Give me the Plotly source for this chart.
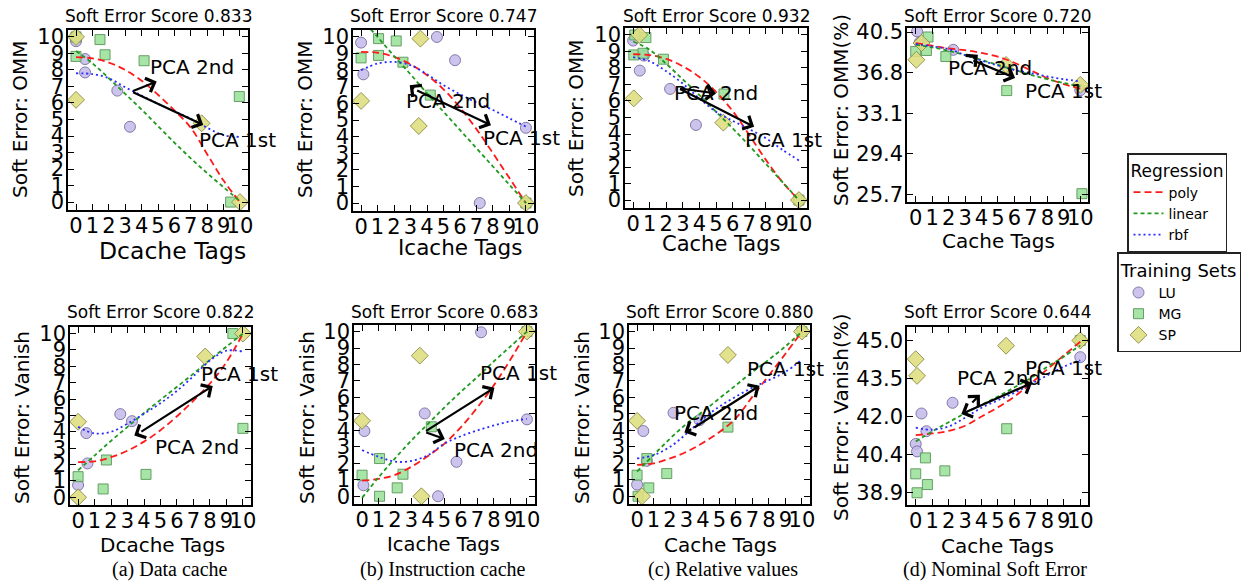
import plotly.graph_objects as go

W, H = 1243, 582

# ---------------- shared values ----------------
CURVE_X = [0, 1, 2, 3, 4, 5, 6, 7, 8, 9, 10]
X_TICKS = [0, 1, 2, 3, 4, 5, 6, 7, 8, 9, 10]
Y_TICKS = [0, 1, 2, 3, 4, 5, 6, 7, 8, 9, 10]
D1_YTICKS = [25.7, 29.4, 33.1, 36.8, 40.5]
D1_YTICK_TEXT = ["25.7", "29.4", "33.1", "36.8", "40.5"]
D2_YTICKS = [38.9, 40.425, 41.95, 43.475, 45.0]
D2_YTICK_TEXT = ["38.9", "40.4", "42.0", "43.5", "45.0"]

SCORES = ["0.833", "0.747", "0.932", "0.720", "0.822", "0.683", "0.880", "0.644"]
X_LABELS = ["Dcache Tags", "Icache Tags", "Cache Tags", "Cache Tags",
            "Dcache Tags", "Icache Tags", "Cache Tags", "Cache Tags"]
Y_LABELS = ["Soft Error: OMM", "Soft Error: OMM", "Soft Error: OMM", "Soft Error: OMM(%)",
            "Soft Error: Vanish", "Soft Error: Vanish", "Soft Error: Vanish", "Soft Error: Vanish(%)"]
CAPTIONS = ["(a) Data cache", "(b) Instruction cache", "(c) Relative values", "(d) Nominal Soft Error"]

# ---------------- (a) Dcache, OMM ----------------
A1_LU_X = [0, 0.55, 0.55, 2.52, 3.29]
A1_LU_Y = [9.74, 8.66, 7.85, 6.75, 4.56]
A1_MG_X = [0, 0, 1.46, 1.77, 4.15, 9.96, 9.43]
A1_MG_Y = [10.0, 8.82, 9.84, 8.92, 8.56, 6.39, 0.0]
A1_SP_X = [0, 0, 7.66, 10]
A1_SP_Y = [10.0, 6.19, 4.77, 0.0]
A1_POLY = [8.78, 8.7, 8.45, 8.0, 7.35, 6.5, 5.55, 4.5, 2.9, 1.3, 0.0]
A1_LIN = [9.15, 8.4, 7.5, 6.55, 5.6, 4.6, 3.6, 2.65, 1.75, 0.9, 0.05]
A1_RBF = [7.8, 7.75, 7.5, 6.95, 6.45, 5.95, 5.5, 5.05, 4.5, 4.05, 3.95]

# ---------------- (b) Icache, OMM ----------------
B1_LU_X = [0, 0.14, 4.6, 5.7, 7.2, 10]
B1_LU_Y = [9.66, 7.75, 10.0, 8.6, 0.0, 4.53]
B1_MG_X = [0, 1.06, 1.06, 2.13, 2.54, 4.2, 10]
B1_MG_Y = [8.74, 9.9, 8.89, 9.76, 8.48, 6.5, 0.0]
B1_SP_X = [0, 3.6, 3.5, 10]
B1_SP_Y = [6.15, 9.9, 4.64, 0.0]
B1_POLY = [9.1, 9.05, 8.8, 8.35, 7.7, 6.85, 5.75, 4.45, 3.0, 1.5, 0.0]
B1_LIN = [11.1, 10.0, 8.85, 7.75, 6.6, 5.5, 4.4, 3.3, 2.2, 1.1, 0.0]
B1_RBF = [8.0, 8.4, 8.5, 8.3, 7.75, 7.1, 6.55, 6.05, 5.6, 5.1, 4.6]

# ---------------- (c) relative, OMM ----------------
C1_LU_X = [0, 0.4, 0.65, 2.23, 3.79, 10]
C1_LU_Y = [9.66, 7.84, 8.75, 6.73, 4.55, 0.0]
C1_MG_X = [0.1, 0.77, 0.04, 0.6, 1.83, 5.48, 10]
C1_MG_Y = [10.0, 9.84, 8.79, 8.89, 8.53, 6.42, 0.0]
C1_SP_X = [0.37, 0.04, 5.44, 10]
C1_SP_Y = [10.0, 6.16, 4.69, 0.0]
C1_POLY = [8.83, 8.78, 8.55, 8.1, 7.45, 6.55, 5.4, 3.95, 2.45, 1.1, 0.0]
C1_LIN = [9.6, 9.1, 8.25, 7.3, 6.35, 5.35, 4.35, 3.3, 2.2, 1.1, 0.0]
C1_RBF = [8.65, 8.4, 7.8, 7.05, 6.15, 5.35, 4.8, 4.3, 3.75, 3.05, 2.4]

# ---------------- (d) nominal, OMM(%) ----------------
D1_LU_X = [0.08, 0.24, 2.28, 10]
D1_LU_Y = [40.56, 39.55, 38.88, 35.2]
D1_MG_X = [0, 0.65, 0.75, 1.83, 5.53, 10.1]
D1_MG_Y = [38.73, 38.82, 40.05, 38.27, 35.16, 25.76]
D1_SP_X = [0.04, 0.35, 5.49, 10]
D1_SP_Y = [37.97, 39.5, 37.5, 35.68]
D1_POLY = [39.5, 39.25, 39.0, 38.85, 38.6, 38.25, 37.7, 37.0, 36.3, 35.75, 35.35]
D1_LIN = [39.35, 39.1, 38.8, 38.4, 37.95, 37.5, 37.05, 36.6, 36.2, 35.85, 35.55]
D1_RBF = [39.4, 39.2, 38.95, 38.4, 37.9, 37.45, 37.05, 36.75, 36.45, 36.2, 36.0]

# ---------------- (a) Dcache, Vanish ----------------
A2_LU_X = [0, 0.5, 0.57, 2.56, 3.27]
A2_LU_Y = [0.75, 3.92, 2.07, 5.08, 4.65]
A2_MG_X = [0, 1.52, 1.72, 4.12, 9.39, 10]
A2_MG_Y = [1.26, 0.51, 2.28, 1.4, 10.0, 4.21]
A2_SP_X = [0, 0, 7.71, 10]
A2_SP_Y = [4.61, 0.0, 8.6, 10.0]
A2_POLY = [2.15, 2.2, 2.45, 2.85, 3.4, 4.1, 4.95, 5.9, 6.95, 8.25, 10.0]
A2_LIN = [1.65, 2.55, 3.45, 4.3, 5.15, 5.95, 6.75, 7.55, 8.4, 9.2, 10.0]
A2_RBF = [4.3, 3.9, 4.0, 4.5, 5.1, 5.75, 6.5, 7.4, 8.35, 8.95, 8.9]

# ---------------- (b) Icache, Vanish ----------------
B2_LU_X = [0.08, 0.14, 3.8, 4.61, 5.73, 7.22, 10]
B2_LU_Y = [0.67, 3.96, 5.03, 0.0, 2.09, 9.96, 4.67]
B2_MG_X = [0, 1.06, 1.06, 2.13, 2.48, 4.2, 10]
B2_MG_Y = [1.28, 2.29, 0.0, 0.51, 1.34, 4.22, 10.0]
B2_SP_X = [0, 3.5, 3.6, 10]
B2_SP_Y = [4.58, 8.54, 0.0, 10.0]
B2_POLY = [0.95, 1.05, 1.3, 1.8, 2.45, 3.2, 4.2, 5.4, 6.75, 8.3, 10.0]
B2_LIN = [-0.1, 1.15, 2.3, 3.4, 4.4, 5.4, 6.35, 7.25, 8.2, 9.1, 10.0]
B2_RBF = [2.8, 2.4, 2.1, 2.15, 2.5, 3.2, 3.65, 4.0, 4.3, 4.55, 4.7]

# ---------------- (c) relative, Vanish ----------------
C2_LU_X = [0, 0.38, 0.59, 2.21, 3.79]
C2_LU_Y = [0.71, 3.96, 2.15, 5.07, 4.62]
C2_MG_X = [0, 0.59, 0.71, 1.8, 5.51, 0.06, 10]
C2_MG_Y = [1.28, 2.29, 0.51, 1.38, 4.2, 0.0, 10.0]
C2_SP_X = [0, 0.3, 5.51, 10]
C2_SP_Y = [4.58, 0.0, 8.58, 10.0]
C2_POLY = [1.9, 2.0, 2.3, 2.7, 3.25, 3.9, 4.75, 6.05, 7.35, 8.65, 10.0]
C2_LIN = [1.5, 2.5, 3.5, 4.4, 5.15, 5.95, 6.75, 7.55, 8.3, 9.1, 10.0]
C2_RBF = [2.3, 2.5, 3.0, 3.8, 4.7, 5.45, 6.05, 6.6, 7.05, 7.55, 8.3]

# ---------------- (d) nominal, Vanish(%) ----------------
D2_LU_X = [0, 0.08, 0.35, 0.65, 2.24, 10]
D2_LU_Y = [40.85, 40.55, 42.07, 41.36, 42.5, 44.33]
D2_MG_X = [0, 0.08, 0.59, 0.71, 1.77, 5.53, 10]
D2_MG_Y = [39.65, 38.89, 40.29, 39.22, 39.77, 41.46, 45.0]
D2_SP_X = [0, 0.08, 5.49, 10]
D2_SP_Y = [44.25, 43.58, 44.79, 45.0]
D2_POLY = [41.2, 41.27, 41.37, 41.58, 41.95, 42.32, 42.75, 43.28, 43.85, 44.4, 44.95]
D2_LIN = [40.95, 41.35, 41.72, 42.08, 42.42, 42.75, 43.12, 43.5, 43.95, 44.35, 44.8]
D2_RBF = [41.5, 41.42, 41.55, 41.9, 42.3, 42.6, 42.9, 43.25, 43.6, 43.95, 44.2]

# ---------------- PCA arrows: [start_x, start_y, end_x, end_y] ----------------
PCA1_ARROWS = [[3.39, 6.69, 7.76, 4.67], [3.31, 6.82, 7.88, 4.69], [2.74, 6.77, 7.3, 4.44],
               [3.41, 37.96, 6.04, 36.32], [3.75, 3.95, 8.17, 6.8], [3.8, 3.91, 8.03, 6.59],
               [3.38, 4.12, 7.43, 6.71], [2.68, 42.02, 7.07, 43.3]]
PCA1_BOTH_ENDS = [False, False, False, False, False, False, False, True]
PCA2_ARROWS = [[3.39, 6.69, 4.92, 7.3], [3.31, 6.82, 2.95, 7.1], [2.74, 6.77, 5.0, 6.46],
               [3.41, 37.96, 3.78, 38.42], [3.75, 3.95, 3.41, 3.78], [3.8, 3.91, 5.02, 3.47],
               [3.38, 4.12, 2.87, 3.87], [3.35, 42.45, 3.9, 42.82]]
PCA1_LABEL_XY = [[7.36, 3.75], [7.26, 3.9], [6.6, 3.64], [6.54, 35.16],
                 [7.36, 7.52], [7.05, 7.5], [6.52, 7.73], [6.54, 43.89]]
PCA2_LABEL_XY = [[4.41, 8.2], [2.58, 6.15], [2.33, 6.5], [1.87, 37.2],
                 [4.52, 3.05], [5.43, 2.8], [2.13, 5.03], [2.38, 43.49]]

PANELS = [
    (A1_LU_X, A1_LU_Y, A1_MG_X, A1_MG_Y, A1_SP_X, A1_SP_Y, A1_POLY, A1_LIN, A1_RBF),
    (B1_LU_X, B1_LU_Y, B1_MG_X, B1_MG_Y, B1_SP_X, B1_SP_Y, B1_POLY, B1_LIN, B1_RBF),
    (C1_LU_X, C1_LU_Y, C1_MG_X, C1_MG_Y, C1_SP_X, C1_SP_Y, C1_POLY, C1_LIN, C1_RBF),
    (D1_LU_X, D1_LU_Y, D1_MG_X, D1_MG_Y, D1_SP_X, D1_SP_Y, D1_POLY, D1_LIN, D1_RBF),
    (A2_LU_X, A2_LU_Y, A2_MG_X, A2_MG_Y, A2_SP_X, A2_SP_Y, A2_POLY, A2_LIN, A2_RBF),
    (B2_LU_X, B2_LU_Y, B2_MG_X, B2_MG_Y, B2_SP_X, B2_SP_Y, B2_POLY, B2_LIN, B2_RBF),
    (C2_LU_X, C2_LU_Y, C2_MG_X, C2_MG_Y, C2_SP_X, C2_SP_Y, C2_POLY, C2_LIN, C2_RBF),
    (D2_LU_X, D2_LU_Y, D2_MG_X, D2_MG_Y, D2_SP_X, D2_SP_Y, D2_POLY, D2_LIN, D2_RBF),
]

# ---------------- layout geometry (pixels) ----------------
BOXES = [(68, 248, 30, 210), (353, 534, 30, 211), (625, 807, 28, 208), (907, 1088, 28, 202),
         (70, 251, 327, 505), (354, 535, 325, 504), (629, 810, 325, 504), (907, 1088, 327, 505)]
XRANGES = [[-0.49, 10.49]] * 3 + [[-0.53, 10.47]] + [[-0.49, 10.49]] * 3 + [[-0.53, 10.47]]
YRANGES = [[-0.48, 10.42]] * 3 + [[25.0, 40.87]] + [[-0.47, 10.4]] * 3 + [[38.4, 45.54]]
TITLE_Y = [16, 16, 16, 16, 312, 312, 312, 312]
XTITLE_POS = [(172, 251, 23.5), (460, 247, 21.5), (721, 244, 21), (998, 241, 20),
              (162, 545, 20), (443, 544, 19.5), (720, 545, 20), (997, 546, 20)]
YTITLE_POS = [(20, 119), (305, 119), (576, 118), (841, 110),
              (22, 418), (307, 418), (582, 418), (841, 417)]
CAPTION_X = [170, 443, 723, 995]
CAPTION_Y = 569

FONT = "DejaVu Sans"

def px(x):
    return x / W

def py(y):
    return 1 - y / H

fig = go.Figure()
annotations = []
layout = dict(width=W, height=H, margin=dict(l=0, r=0, t=0, b=0, pad=0, autoexpand=False),
              autosize=False, paper_bgcolor="white", plot_bgcolor="white",
              font=dict(family=FONT, color="black"))

LINE_STYLES = [("poly", "#ff1a1a", "7px,4px"), ("linear", "#1f9a1f", "4px,3px"), ("rbf", "#2b2bff", "2px,3px")]
MARKER_STYLES = [("LU", "circle", 11, "rgba(196,186,234,0.85)", "rgba(120,110,160,0.9)"),
                 ("MG", "square", 10, "rgba(150,224,150,0.85)", "rgba(90,150,90,0.9)"),
                 ("SP", "diamond", 13, "rgba(222,222,130,0.9)", "rgba(140,140,70,0.9)")]

for i, data in enumerate(PANELS):
    n = i + 1
    xa = "x" if n == 1 else f"x{n}"
    ya = "y" if n == 1 else f"y{n}"
    x0, x1, y0, y1 = BOXES[i]
    axis_common = dict(showline=True, linecolor="black", linewidth=1.5, mirror="ticks",
                       ticks="inside", ticklen=6, tickwidth=1, tickcolor="black",
                       showgrid=False, zeroline=False, automargin=False,
                       tickfont=dict(family=FONT, size=21, color="black"))
    layout["xaxis" if n == 1 else f"xaxis{n}"] = dict(
        axis_common, domain=[px(x0), px(x1)], range=XRANGES[i], anchor=ya,
        tickmode="array", tickvals=X_TICKS, ticktext=[str(v) for v in X_TICKS], tickangle=0,
        ticklabelstandoff=-4)
    if i == 3:
        yt, ytt = D1_YTICKS, D1_YTICK_TEXT
    elif i == 7:
        yt, ytt = D2_YTICKS, D2_YTICK_TEXT
    else:
        yt, ytt = Y_TICKS, [str(v) for v in Y_TICKS]
    layout["yaxis" if n == 1 else f"yaxis{n}"] = dict(
        axis_common, domain=[py(y1), py(y0)], range=YRANGES[i], anchor=xa,
        tickmode="array", tickvals=yt, ticktext=ytt, ticklabelstandoff=-2)

    lu_x, lu_y, mg_x, mg_y, sp_x, sp_y, poly, lin, rbf = data
    for (name, sym, size, fill, edge), (mx, my) in zip(MARKER_STYLES, [(lu_x, lu_y), (mg_x, mg_y), (sp_x, sp_y)]):
        fig.add_trace(go.Scatter(x=mx, y=my, mode="markers", name=name, xaxis=xa, yaxis=ya,
                                 marker=dict(symbol=sym, size=size, color=fill, line=dict(color=edge, width=1)),
                                 legend="legend2", showlegend=(i == 0), legendgroup=name))
    for (name, color, dash), cy in zip(LINE_STYLES, [poly, lin, rbf]):
        fig.add_trace(go.Scatter(x=CURVE_X, y=cy, mode="lines", name=name, xaxis=xa, yaxis=ya,
                                 line=dict(color=color, width=1.8, dash=dash, shape="spline", smoothing=1.0),
                                 legend="legend", showlegend=(i == 0), legendgroup=name))

    # PCA arrows
    s1 = PCA1_ARROWS[i]
    arrow1 = dict(x=s1[2], y=s1[3], ax=s1[0], ay=s1[1], xref=xa, yref=ya, axref=xa, ayref=ya,
                  text="", showarrow=True, arrowhead=4, arrowsize=1.3, arrowwidth=2.2,
                  arrowcolor="black", standoff=0, startstandoff=0)
    if PCA1_BOTH_ENDS[i]:
        arrow1.update(arrowside="end+start", startarrowhead=4, startarrowsize=1.3)
    annotations.append(arrow1)
    s2 = PCA2_ARROWS[i]
    annotations.append(dict(x=s2[2], y=s2[3], ax=s2[0], ay=s2[1], xref=xa, yref=ya, axref=xa, ayref=ya,
                            text="", showarrow=True, arrowhead=4, arrowsize=1.3, arrowwidth=2.2,
                            arrowcolor="black", standoff=0))
    for lbl, (lx, ly) in (("PCA 1st", PCA1_LABEL_XY[i]), ("PCA 2nd", PCA2_LABEL_XY[i])):
        annotations.append(dict(x=lx, y=ly, xref=xa, yref=ya, text=lbl, showarrow=False,
                                xanchor="left", yanchor="middle",
                                font=dict(family=FONT, size=20, color="black")))

    # panel title
    annotations.append(dict(x=px((x0 + x1) / 2), y=py(TITLE_Y[i]), xref="paper", yref="paper",
                            text="Soft Error Score " + SCORES[i], showarrow=False,
                            xanchor="center", yanchor="middle",
                            font=dict(family=FONT, size=17, color="black")))
    # axis titles
    tx, ty, ts = XTITLE_POS[i]
    annotations.append(dict(x=px(tx), y=py(ty), xref="paper", yref="paper", text=X_LABELS[i],
                            showarrow=False, xanchor="center", yanchor="middle",
                            font=dict(family=FONT, size=ts, color="black")))
    yx, yy = YTITLE_POS[i]
    annotations.append(dict(x=px(yx), y=py(yy), xref="paper", yref="paper", text=Y_LABELS[i],
                            showarrow=False, xanchor="center", yanchor="middle", textangle=-90,
                            font=dict(family=FONT, size=20, color="black")))

for cx, cap in zip(CAPTION_X, CAPTIONS):
    annotations.append(dict(x=px(cx), y=py(CAPTION_Y), xref="paper", yref="paper", text=cap,
                            showarrow=False, xanchor="center", yanchor="middle",
                            font=dict(family="Liberation Serif", size=20, color="black")))

layout["annotations"] = annotations
layout["legend"] = dict(x=px(1127), y=py(153), xanchor="left", yanchor="top",
                        bordercolor="#222222", borderwidth=1.5, bgcolor="white",
                        font=dict(family=FONT, size=14, color="black"),
                        title=dict(text="Regression", side="top center", font=dict(family=FONT, size=17)),
                        itemwidth=30, tracegroupgap=0)
layout["legend2"] = dict(x=px(1117), y=py(252), xanchor="left", yanchor="top",
                         bordercolor="#222222", borderwidth=1.5, bgcolor="white",
                         font=dict(family=FONT, size=14, color="black"),
                         title=dict(text="Training Sets", side="top center", font=dict(family=FONT, size=18)),
                         itemwidth=30, tracegroupgap=0)
fig.update_layout(**layout)
POST = ("document.body.style.margin='0px';document.body.style.overflow='hidden';"
        "var d=document.querySelector('.plotly-graph-div');"
        "d.style.position='absolute';d.style.top='0px';d.style.left='0px';")
fig.write_html("out.html", config={"displayModeBar": False}, post_script=POST)
